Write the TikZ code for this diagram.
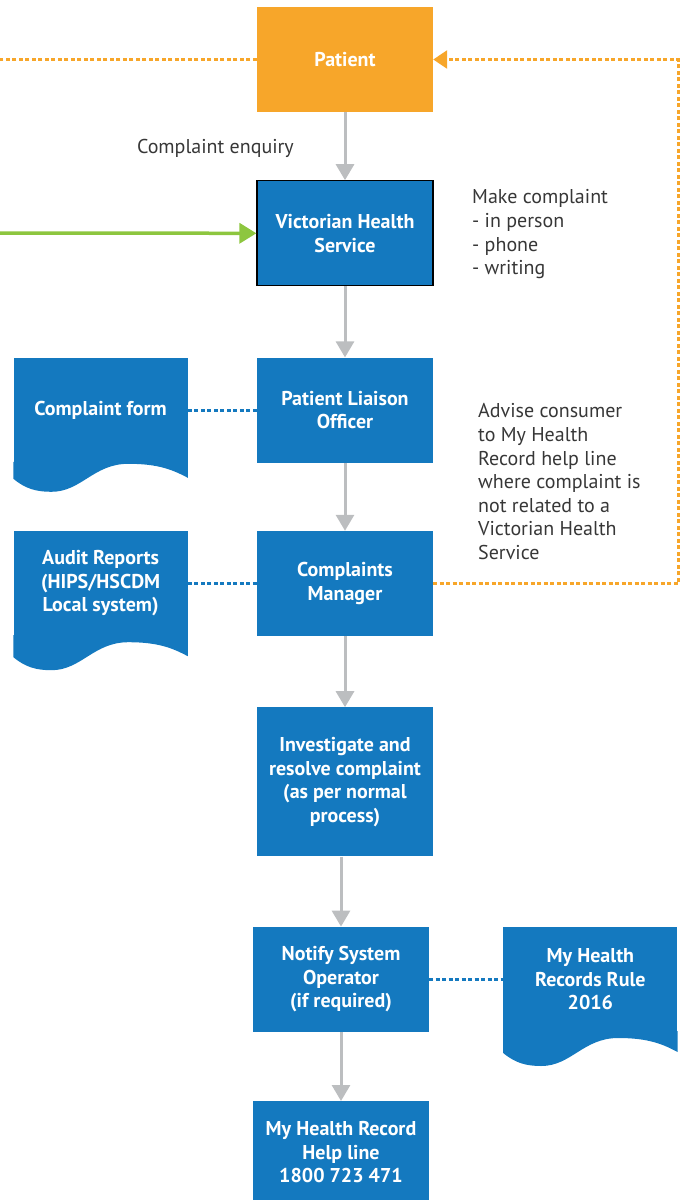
\documentclass[tikz,border=0pt]{standalone}
\usepackage{fontspec}
\setmainfont{PT Sans}
\usetikzlibrary{positioning, arrows.meta}
\definecolor{vicblue}{RGB}{20,121,191}
\definecolor{patorange}{RGB}{247,166,42}
\definecolor{flowgrey}{RGB}{188,190,192}
\definecolor{linkgreen}{RGB}{141,198,63}
\definecolor{notegrey}{RGB}{55,55,55}
\newcommand{\boxfont}{\fontsize{20}{23.5}\selectfont\bfseries}
\newcommand{\notefont}{\fontsize{20}{23.6}\selectfont}
\tikzstyle{person} = [rectangle, minimum width=176pt, minimum height=105pt, align=center, fill=patorange, text=white, font=\boxfont]
\tikzstyle{process} = [rectangle, minimum width=176pt, minimum height=105pt, align=center, fill=vicblue, text=white, font=\boxfont]
\tikzstyle{docu} = [rectangle, minimum width=174pt, minimum height=105pt, align=center, fill=vicblue, text=white, font=\boxfont]
\tikzstyle{note} = [inner sep=0pt, align=left, text=notegrey, font=\notefont]
\tikzstyle{arrow} = [draw=flowgrey, line width=3pt, -{Triangle[width=18pt,length=16pt]}]
\tikzstyle{dotlink} = [draw=vicblue, line width=2.8pt, dash pattern=on 4pt off 2.5pt]
\tikzstyle{orangelink} = [draw=patorange, line width=2.6pt, dash pattern=on 4pt off 2.5pt]
\tikzstyle{greenlink} = [draw=linkgreen, line width=3.5pt, -{Triangle[width=20pt,length=17pt]}]
% wavy foot of a document shape: node name, extra side length
\newcommand{\docwave}[2]{\fill[vicblue] ([yshift=1pt]#1.south west) -- ([yshift=-#2pt]#1.south west) .. controls +(12,10) and +(-15,0) .. ++(38,13) .. controls +(30,0) and +(-35,0) .. ++(77,-28) .. controls +(30,0) and +(-15,-8) .. ([yshift=-#2pt+1pt]#1.south east) -- ([yshift=1pt]#1.south east) -- cycle;}

\begin{document}
\begin{tikzpicture}[x=1pt, y=-1pt]
	\useasboundingbox (0,0) rectangle (683,1200);

	\node (patient) [person] at (345,59.5) {Patient};
	\node (vhs) [process, draw=black, line width=1.2pt, below=68pt of patient] {Victorian Health\\Service};
	\node (plo) [process, below=71pt of vhs] {Patient Liaison\\Officer};
	\node (cm) [process, below=68pt of plo] {Complaints\\Manager};
	\node (inv) [process, minimum height=149pt, below=71pt of cm] {Investigate and\\resolve complaint\\(as per normal\\process)};
	\node (nso) [process, below=70pt of inv, xshift=-4pt] {Notify System\\Operator\\(if required)};
	\node (helpline) [process, minimum height=102pt, below=69pt of nso] {My Health Record\\Help line\\1800 723 471};

	\node (cform) [docu, left=69pt of plo] {Complaint form};
	\node (audit) [docu, left=69pt of cm] {Audit Reports\\(HIPS/HSCDM\\Local system)};
	\node (rule) [docu, right=74pt of nso] {My Health\\Records Rule\\2016};
	\docwave{cform}{16}
	\docwave{audit}{21}
	\docwave{rule}{21}

	\node (enquiry) [note, anchor=east] at (294,148) {Complaint enquiry};
	\node (howto) [note, anchor=north west] at (472,189.5) {Make complaint\\- in person\\- phone\\- writing};
	\node (advise) [note, anchor=north west] at (478,403.5) {Advise consumer\\to My Health\\Record help line\\where complaint is\\not related to a\\Victorian Health\\Service};

	\coordinate (lfree) at (0,59.5);
	\coordinate (gfree) at (0,233);

	\draw [arrow] (patient) -- (vhs);
	\draw [arrow] (vhs) -- (plo);
	\draw [arrow] (plo) -- (cm);
	\draw [arrow] (cm) -- (inv);
	\draw [arrow] (inv.south -| nso.north) -- (nso.north);
	\draw [arrow] (nso) -- (helpline);

	\draw [dotlink] (cform.east) -- (plo.west);
	\draw [dotlink] (audit.east) -- (cm.west);
	\draw [dotlink] (nso.east) -- (rule.west);

	\draw [orangelink] (patient.west) -- (lfree);
	\draw [orangelink, -{Triangle[width=18pt,length=14pt]}] (cm.east) -- ++(245,0) |- (patient.east);
	\draw [greenlink] (gfree) -- (vhs.west);
\end{tikzpicture}
\end{document}
